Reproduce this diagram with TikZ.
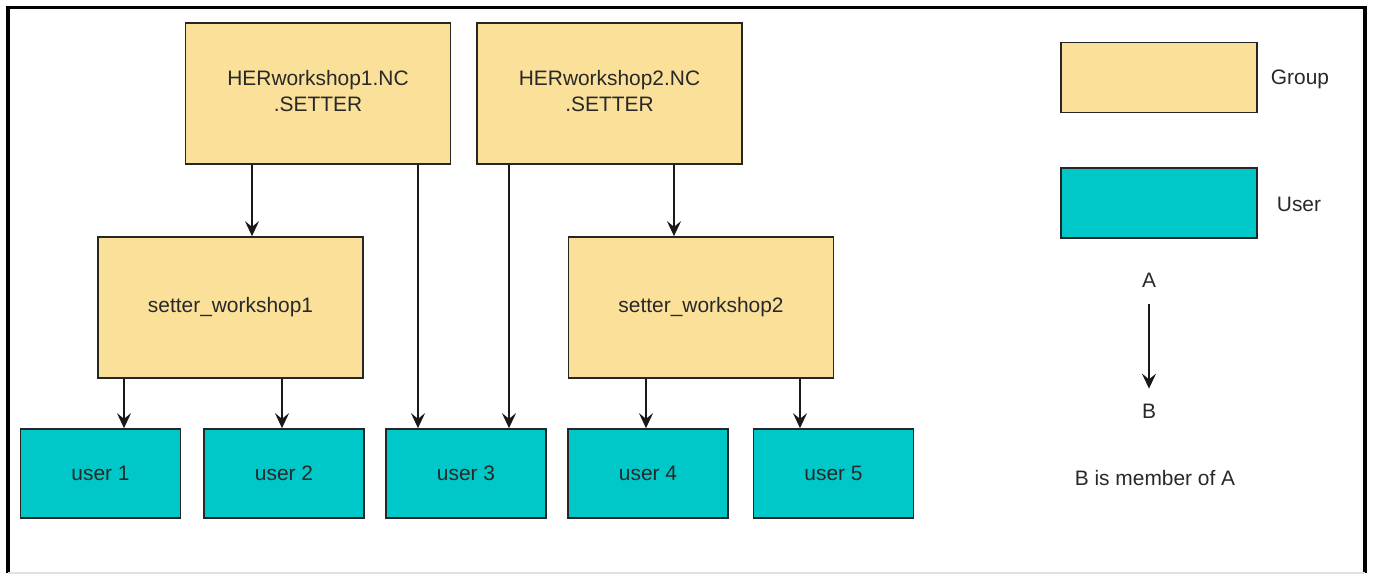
\documentclass[tikz,border=0pt]{standalone}
\usepackage{fontspec}
\setmainfont{Liberation Sans}
\usetikzlibrary{arrows.meta}
\definecolor{groupfill}{RGB}{250,224,152}
\definecolor{userfill}{RGB}{0,200,200}
\definecolor{textgray}{RGB}{40,40,40}
\newcommand{\lowtext}[1]{\raisebox{-0.1cm}{\begin{tabular}{@{}c@{}}#1\end{tabular}}}
\begin{document}
\begin{tikzpicture}[
    every node/.style={font=\fontsize{11.9}{14.7}\selectfont, text=textgray},
    group/.style={rectangle, draw=black!85, line width=1pt, fill=groupfill, minimum width=5.3cm, minimum height=2.82cm, align=center},
    user/.style={rectangle, draw=black!85, line width=1pt, fill=userfill, minimum width=3.2cm, minimum height=1.78cm},
    legendbox/.style={rectangle, draw=black!85, line width=1pt, minimum width=3.92cm, minimum height=1.4cm},
    arrow/.style={-{Stealth[length=8.5pt, width=8pt, inset=3.2pt]}, line width=1pt, black!90},
    frame/.style={line width=2.2pt, black}
]
\useasboundingbox (0,0) rectangle (27.46,-11.6);

% -------------------------
% Frame
% -------------------------
    \draw[frame] (0.16,-11.46) -- (0.16,-0.15) -- (27.3,-0.15) -- (27.3,-11.46);
    \draw[line width=0.6pt, black!12] (0.16,-11.46) -- (27.3,-11.46);

% -------------------------
% Groups
% -------------------------
    \node[group] (her1) at (6.36, -1.87) {\lowtext{HERworkshop1.NC\\.SETTER}};
    \node[group] (her2) at (12.19, -1.87) {\lowtext{HERworkshop2.NC\\.SETTER}};
    \node[group] (setter1) at (4.61, -6.15) {setter\_workshop1};
    \node[group] (setter2) at (14.02, -6.15) {setter\_workshop2};

% -------------------------
% Users
% -------------------------
    \node[user] (user1) at (2.01, -9.47) {user 1};
    \node[user] (user2) at (5.68, -9.47) {user 2};
    \node[user] (user3) at (9.32, -9.47) {user 3};
    \node[user] (user4) at (12.96, -9.47) {user 4};
    \node[user] (user5) at (16.67, -9.47) {user 5};

% -------------------------
% Legend
% -------------------------
    \node[legendbox, fill=groupfill] (legGroup) at (23.18, -1.55) {};
    \node (labelGroup) at (26.0, -1.58) {Group};
    \node[legendbox, fill=userfill] (legUser) at (23.18, -4.06) {};
    \node (labelUser) at (25.98, -4.09) {User};
    \node (legA) at (22.98, -5.61) {A};
    \node (legB) at (22.98, -8.22) {B};
    \node (legNote) at (23.1, -9.56) {B is member of A};

% -------------------------
% Arrows
% -------------------------
    \draw[arrow] ([xshift=-1.32cm]her1.south) -- ([xshift=-1.32cm]her1.south |- setter1.north);
    \draw[arrow] ([xshift=2.0cm]her1.south) -- ([xshift=2.0cm]her1.south |- user3.north);
    \draw[arrow] ([xshift=-2.01cm]her2.south) -- ([xshift=-2.01cm]her2.south |- user3.north);
    \draw[arrow] ([xshift=1.29cm]her2.south) -- ([xshift=1.29cm]her2.south |- setter2.north);

    \draw[arrow] ([xshift=-2.13cm]setter1.south) -- ([xshift=-2.13cm]setter1.south |- user1.north);
    \draw[arrow] ([xshift=1.03cm]setter1.south) -- ([xshift=1.03cm]setter1.south |- user2.north);
    \draw[arrow] ([xshift=-1.1cm]setter2.south) -- ([xshift=-1.1cm]setter2.south |- user4.north);
    \draw[arrow] ([xshift=1.98cm]setter2.south) -- ([xshift=1.98cm]setter2.south |- user5.north);

    \draw[arrow, shorten <=0.2cm, shorten >=0.18cm] (legA) -- (legB);
\end{tikzpicture}
\end{document}
